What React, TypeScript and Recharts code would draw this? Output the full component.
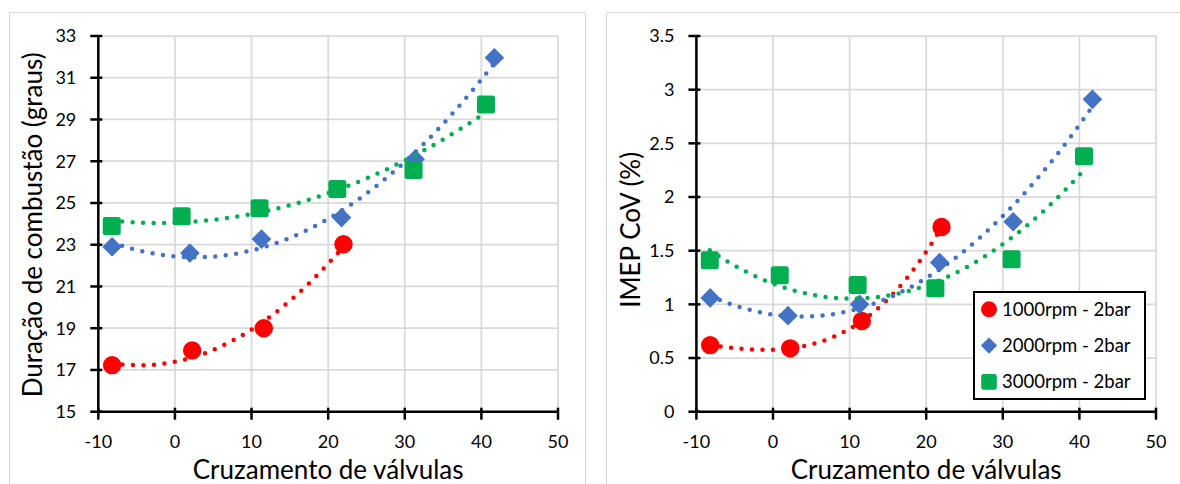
import React from 'react';
import { ScatterChart, Scatter, XAxis, YAxis, CartesianGrid } from 'recharts';

// tick values
const overlapTicks = [-10, 0, 10, 20, 30, 40, 50];
const durationTicks = [15, 17, 19, 21, 23, 25, 27, 29, 31, 33];
const covTicks = [0, 0.5, 1, 1.5, 2, 2.5, 3, 3.5];

// valve overlap of each test point
const overlap1000 = [-8.2, 2.25, 11.6, 22.0];
const overlap2000 = [-8.2, 1.95, 11.3, 21.75, 31.35, 41.7];
const overlap3000 = [-8.25, 0.88, 11.05, 21.2, 31.15, 40.6];

// combustion duration (deg)
const duration1000 = [17.23, 17.93, 19.0, 23.02];
const duration2000 = [22.9, 22.6, 23.27, 24.3, 27.1, 31.96];
const duration3000 = [23.9, 24.37, 24.75, 25.67, 26.58, 29.72];

// IMEP CoV (%)
const cov1000 = [0.62, 0.59, 0.845, 1.72];
const cov2000 = [1.06, 0.895, 1.0, 1.39, 1.77, 2.91];
const cov3000 = [1.41, 1.27, 1.18, 1.15, 1.42, 2.38];

// polynomial order of each trendline
const durationTrendOrder = [2, 2, 2];
const covTrendOrder = [3, 2, 2];

const seriesNames = ['1000rpm - 2bar', '2000rpm - 2bar', '3000rpm - 2bar'];
const seriesColors = ['#FF0000', '#4472C4', '#00B050'];

const FONT = 'Lato, "Open Sans", sans-serif';

type Pt = { x: number; y: number };

const toPoints = (xs: number[], ys: number[]): Pt[] => xs.map((x, i) => ({ x, y: ys[i] }));

// least squares polynomial trendline, sampled over the data range
function polyTrend(pts: Pt[], order: number, steps = 90): Pt[] {
  const n = order + 1;
  const m: number[][] = Array.from({ length: n }, () => new Array(n + 1).fill(0));
  for (const { x, y } of pts) {
    for (let r = 0; r < n; r++) {
      for (let c = 0; c < n; c++) m[r][c] += Math.pow(x, r + c);
      m[r][n] += Math.pow(x, r) * y;
    }
  }
  for (let i = 0; i < n; i++) {
    for (let k = i + 1; k < n; k++) {
      const f = m[k][i] / m[i][i];
      for (let j = i; j <= n; j++) m[k][j] -= f * m[i][j];
    }
  }
  const coef = new Array(n).fill(0);
  for (let i = n - 1; i >= 0; i--) {
    let s = m[i][n];
    for (let j = i + 1; j < n; j++) s -= m[i][j] * coef[j];
    coef[i] = s / m[i][i];
  }
  const xs = pts.map((p) => p.x);
  const x0 = Math.min(...xs);
  const x1 = Math.max(...xs);
  return Array.from({ length: steps + 1 }, (_, i) => {
    const x = x0 + ((x1 - x0) * i) / steps;
    return { x, y: coef.reduce((acc, c, k) => acc + c * Math.pow(x, k), 0) };
  });
}

const circleShape = (color: string, r: number) => (p: any) =>
  <circle cx={p.cx} cy={p.cy} r={r} fill={color} />;

const diamondShape = (color: string, h: number) => (p: any) =>
  <polygon
    points={`${p.cx},${p.cy - h} ${p.cx + h},${p.cy} ${p.cx},${p.cy + h} ${p.cx - h},${p.cy}`}
    fill={color}
  />;

const squareShape = (color: string, h: number) => (p: any) =>
  <rect x={p.cx - h} y={p.cy - h} width={2 * h} height={2 * h} rx={2.5} fill={color} />;

const markerShapes = [
  circleShape(seriesColors[0], 9.2),
  diamondShape(seriesColors[1], 9.8),
  squareShape(seriesColors[2], 9),
];
const legendShapes = [
  circleShape(seriesColors[0], 8),
  diamondShape(seriesColors[1], 8.2),
  squareShape(seriesColors[2], 7.8),
];

// cross-type tick marks like the spreadsheet axes
const XTick = (props: any) => {
  const { x, y, payload } = props;
  const axisY = y - 6;
  return (
    <g>
      <line x1={x} x2={x} y1={axisY - 6} y2={axisY + 6} stroke="#000" strokeWidth={2.5} />
      <text x={x} y={axisY + 34.5} textAnchor="middle" fontSize={18} fontFamily={FONT} fill="#000">
        {payload.value}
      </text>
    </g>
  );
};

const YTick = (props: any) => {
  const { x, y, payload } = props;
  const axisX = x + 6;
  return (
    <g>
      <line x1={axisX - 6} x2={axisX + 6} y1={y} y2={y} stroke="#000" strokeWidth={2.5} />
      <text x={axisX - 20} y={y} dy="0.35em" textAnchor="end" fontSize={18} fontFamily={FONT} fill="#000">
        {payload.value}
      </text>
    </g>
  );
};

// legend drawn over the plot, lower right
const LegendBox = () => (
  <svg width={173} height={109} style={{ display: 'block' }}>
    <rect x={1} y={1} width={171} height={107} fill="#fff" stroke="#000" strokeWidth={2} />
    {seriesNames.map((name, i) => {
      const cy = 18.3 + i * 36.3;
      return (
        <g key={name}>
          {legendShapes[i]({ cx: 16, cy })}
          <text x={29} y={cy} dy="0.35em" fontSize={18.5} fontFamily={FONT} fill="#000">
            {name}
          </text>
        </g>
      );
    })}
  </svg>
);

type PanelProps = {
  left: number;
  marginLeft: number;
  marginRight: number;
  yDomain: [number, number];
  yTicks: number[];
  yTitle: string;
  yTitleShift: number;
  series: number[][];
  trendOrder: number[];
  legend?: boolean;
};

const xSeries = [overlap1000, overlap2000, overlap3000];

function Panel({
  left, marginLeft, marginRight, yDomain, yTicks, yTitle, yTitleShift, series, trendOrder, legend,
}: PanelProps) {
  const points = series.map((ys, i) => toPoints(xSeries[i], ys));
  const trends = points.map((p, i) => polyTrend(p, trendOrder[i]));
  return (
    <div style={{ position: 'absolute', left, top: 0, width: 590, height: 484 }}>
      <ScatterChart
        width={590}
        height={484}
        margin={{ top: 36, right: marginRight, bottom: 32.3, left: marginLeft }}
      >
        <CartesianGrid stroke="#d9d9d9" strokeWidth={1.75} />
        <XAxis
          type="number"
          dataKey="x"
          domain={[-10, 50]}
          ticks={overlapTicks}
          interval={0}
          height={40}
          tickSize={6}
          tickLine={false}
          axisLine={{ stroke: '#000', strokeWidth: 2.5 }}
          tick={<XTick />}
          label={{
            content: (lp: any) => {
              const vb = lp.viewBox;
              return (
                <text
                  x={vb.x + vb.width / 2}
                  y={vb.y + 66.8}
                  textAnchor="middle"
                  fontSize={26}
                  fontFamily={FONT}
                  fill="#000"
                >
                  Cruzamento de válvulas
                </text>
              );
            },
          }}
        />
        <YAxis
          type="number"
          dataKey="y"
          domain={yDomain}
          ticks={yTicks}
          interval={0}
          width={60}
          tickSize={6}
          tickLine={false}
          axisLine={{ stroke: '#000', strokeWidth: 2.5 }}
          tick={<YTick />}
          label={{
            content: (lp: any) => {
              const vb = lp.viewBox;
              const bx = vb.x + vb.width - 56.6;
              const cy = vb.y + vb.height / 2 + yTitleShift;
              return (
                <text
                  x={bx}
                  y={cy}
                  transform={`rotate(-90, ${bx}, ${cy})`}
                  textAnchor="middle"
                  fontSize={26}
                  fontFamily={FONT}
                  fill="#000"
                >
                  {yTitle}
                </text>
              );
            },
          }}
        />
        {points.map((pts, i) => (
          <Scatter
            key={`m${i}`}
            name={seriesNames[i]}
            data={pts}
            fill={seriesColors[i]}
            shape={markerShapes[i]}
            isAnimationActive={false}
          />
        ))}
        {trends.map((pts, i) => (
          <Scatter
            key={`t${i}`}
            data={pts}
            fill={seriesColors[i]}
            legendType="none"
            line={{
              stroke: seriesColors[i],
              strokeWidth: 4.5,
              strokeDasharray: '0 10.5',
              strokeLinecap: 'round',
            }}
            lineType="joint"
            shape={() => <g />}
            isAnimationActive={false}
          />
        ))}
      </ScatterChart>
      {legend && (
        <div style={{ position: 'absolute', left: 383.3, top: 291 }}>
          <LegendBox />
        </div>
      )}
    </div>
  );
}

export default function App() {
  return (
    <div
      style={{
        position: 'absolute',
        left: 0,
        top: 0,
        width: 1180,
        height: 484,
        overflow: 'hidden',
        background: '#fff',
        fontFamily: FONT,
      }}
    >
      <div
        style={{
          position: 'absolute',
          left: 8.5,
          top: 11.5,
          width: 577,
          height: 490,
          border: '1.75px solid #d9d9d9',
          boxSizing: 'border-box',
        }}
      />
      <div
        style={{
          position: 'absolute',
          left: 606,
          top: 11.5,
          width: 600,
          height: 490,
          border: '1.75px solid #d9d9d9',
          boxSizing: 'border-box',
        }}
      />
      <Panel
        left={0}
        marginLeft={38.3}
        marginRight={32}
        yDomain={[15, 33]}
        yTicks={durationTicks}
        yTitle="Duração de combustão (graus)"
        yTitleShift={1}
        series={[duration1000, duration2000, duration3000]}
        trendOrder={durationTrendOrder}
      />
      <Panel
        left={590}
        marginLeft={46.4}
        marginRight={24}
        yDomain={[0, 3.5]}
        yTicks={covTicks}
        yTitle="IMEP CoV (%)"
        yTitleShift={6}
        series={[cov1000, cov2000, cov3000]}
        trendOrder={covTrendOrder}
        legend
      />
    </div>
  );
}
